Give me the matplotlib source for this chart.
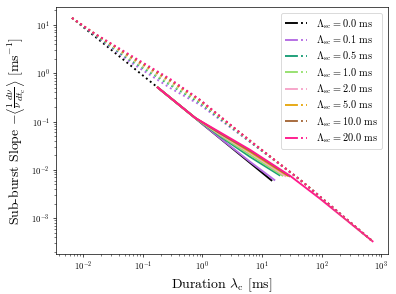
import matplotlib
matplotlib.use('Agg')
import matplotlib.pyplot as plt
from matplotlib.legend_handler import HandlerTuple

plt.rcParams['font.family'] = 'serif'
plt.rcParams['font.serif'] = ['cmr10']
plt.rcParams['mathtext.fontset'] = 'cm'
plt.rcParams['axes.formatter.use_mathtext'] = True

## scattering timescales and colours
lam_sc = ['0.0', '0.1', '0.5', '1.0', '2.0', '5.0', '10.0', '20.0']
colors = ['black', '#b46be3', '#1b9e77', '#96e06e', '#f7a3c9', '#e6a812', '#a6683a', '#ff1a8c']

## solid part (measured range), durations in ms and slopes in 1/ms
solid_dur = {
    '0.0': [0.174, 14.8],
    '0.1': [0.174, 0.757, 1.99, 6.34, 16.6],
    '0.5': [0.174, 0.757, 1.99, 6.34, 20.2],
    '1.0': [0.174, 0.757, 1.99, 6.34, 22.7],
    '2.0': [0.174, 0.757, 1.99, 6.34, 25.5],
    '5.0': [0.174, 0.757, 1.99, 6.34, 27.5],
    '10.0': [0.174, 0.757, 1.99, 6.34, 29.7],
    '20.0': [0.174, 0.757, 1.99, 6.34, 29.7, 94.8, 735],
}
solid_slope = {
    '0.0': [0.520, 0.00589],
    '0.1': [0.520, 0.119, 0.0450, 0.0146, 0.0060],
    '0.5': [0.520, 0.119, 0.0492, 0.0185, 0.00757],
    '1.0': [0.520, 0.119, 0.0516, 0.0203, 0.00742],
    '2.0': [0.520, 0.119, 0.0541, 0.0224, 0.00726],
    '5.0': [0.520, 0.119, 0.0567, 0.0235, 0.00740],
    '10.0': [0.520, 0.119, 0.0567, 0.0246, 0.00720],
    '20.0': [0.520, 0.119, 0.0595, 0.0258, 0.00748, 0.0025, 3.21e-4],
}

## dotted part (model curve)
dot_dur_black = [0.00653, 0.174]
dot_slope_black = [14.0, 0.52]
dot_dur = [0.00653, 0.01416, 0.0615, 0.288, 0.918, 6.34, 43.8, 735]
dot_slope = {
    '0.1': [14.0, 6.82, 1.71, 0.496, 0.221, 0.0377, 0.00618, 3.21e-4],
    '0.5': [14.0, 6.82, 1.88, 0.572, 0.243, 0.0377, 0.00618, 3.21e-4],
    '1.0': [14.0, 7.16, 1.97, 0.600, 0.255, 0.0396, 0.00618, 3.21e-4],
    '2.0': [14.0, 7.16, 2.07, 0.661, 0.267, 0.0396, 0.00618, 3.21e-4],
    '5.0': [14.0, 7.16, 2.17, 0.693, 0.267, 0.0396, 0.00618, 3.21e-4],
    '10.0': [14.0, 7.16, 2.28, 0.726, 0.280, 0.0396, 0.00618, 3.21e-4],
    '20.0': [14.0, 7.16, 2.39, 0.762, 0.280, 0.0396, 0.00618, 3.21e-4],
}

fig, ax = plt.subplots(figsize=(396/62, 294/62), dpi=62)
plt.subplots_adjust(left=0.141, right=0.980, top=0.976, bottom=0.136)

handles = []
for s, c in zip(lam_sc, colors):
    h_s, = ax.plot(solid_dur[s], solid_slope[s], color=c, lw=2.2, solid_capstyle='butt')
    handles.append(h_s)

dot_handles = []
for s, c in zip(lam_sc, colors):
    if s == '0.0':
        h_d, = ax.plot(dot_dur_black, dot_slope_black, color=c, ls=':', lw=2.2)
    else:
        h_d, = ax.plot(dot_dur, dot_slope[s], color=c, ls=':', lw=2.2)
    dot_handles.append(h_d)

ax.set_xscale('log')
ax.set_yscale('log')
ax.set_xlim(3.5e-3, 1.3e3)
ax.set_ylim(1.8e-4, 23.5)
ax.tick_params(axis='both', labelsize=10)

labels = [r'$\Lambda_{\rm sc} = %s$ ms' % s for s in lam_sc]
ax.legend(list(zip(handles, dot_handles)), labels,
          handler_map={tuple: HandlerTuple(ndivide=None, pad=0.0)},
          loc='upper right', fontsize=12, handlelength=2.1, labelspacing=0.25,
          borderaxespad=0.55, handletextpad=0.9)

ax.set_xlabel(r'Duration $\lambda_{\rm c}$ [ms]', fontsize=16)
ax.set_ylabel(r'Sub-burst Slope $-\left\langle \frac{1}{\nu}\frac{d\nu}{dt_{\rm c}} \right\rangle$ [ms$^{-1}$]', fontsize=16)

plt.savefig('out.png', dpi=62)
